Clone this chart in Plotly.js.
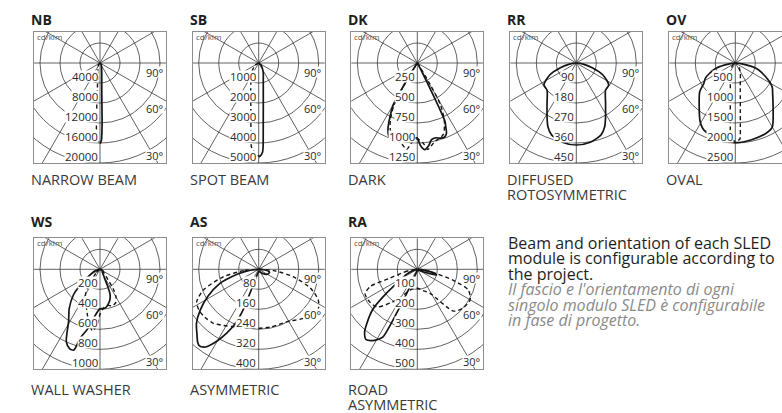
<!DOCTYPE html>
<html><head><meta charset="utf-8">
<script src="https://cdn.plot.ly/plotly-3.0.1.min.js"></script>
<style>html,body{margin:0;padding:0;background:#fff;overflow:hidden;}</style>
</head><body><div id="chart" style="width:782px;height:413px;"></div>
<script>
// ---------- DATA (angle from nadir in degrees: negative = left half, positive = right half; intensity in cd/klm) ----------
const NB_TICKS = [4000, 8000, 12000, 16000, 20000];
const NB_SOLID_ANG = [0, 1, 2, 3, 5, 10, 20, 45, 90];
const NB_SOLID_CD  = [16100, 15500, 12000, 7000, 4000, 2000, 900, 300, 0];
const NB_DASH_ANG  = [-90, -45, -20, -10, -6, -4, -3, -2, 0];
const NB_DASH_CD   = [0, 400, 1200, 2600, 5000, 9500, 13500, 15500, 16000];

const SB_TICKS = [1000, 2000, 3000, 4000, 5000];
const SB_SOLID_ANG = [0, 1.5, 2.5, 3, 3.5, 4.5, 6, 8, 11, 15, 25, 45, 90];
const SB_SOLID_CD  = [4700, 4600, 4450, 4200, 3700, 2900, 2200, 1650, 1200, 880, 540, 200, 0];
const SB_DASH_ANG  = [-90, -60, -35, -22, -16, -12, -9, -7, -6, -5, -3.5, -2, 0];
const SB_DASH_CD   = [0, 200, 650, 1050, 1450, 1900, 2500, 3200, 3700, 4200, 4350, 4550, 4650];

const DK_TICKS = [250, 500, 750, 1000, 1250];
const DK_SOLID_ANG = [-90, -40, -33, -31, -30, -27, -24, -21, -15, -10, -5, 0, 2, 5, 8, 10.5, 14, 17, 20, 22.6, 24, 25.3, 26, 26.5, 27, 28, 30, 40, 90];
const DK_SOLID_CD  = [0, 10, 60, 370, 600, 750, 900, 985, 1000, 975, 950, 938, 1025, 1088, 1038, 975, 963, 983, 988, 950, 875, 812, 625, 375, 188, 88, 38, 12, 0];
const DK_DASH_ANG  = [-90, -35, -31, -29, -25, -20, -12, -7, -4, 0, 4, 7, 12, 20, 25, 29, 31, 35, 90];
const DK_DASH_CD   = [0, 20, 300, 600, 800, 950, 1012, 1088, 1000, 950, 1000, 1088, 1012, 950, 800, 600, 300, 20, 0];

const RR_TICKS = [90, 180, 270, 360, 450];
const RR_SOLID_ANG = [-90, -80, -73, -66, -56, -47, -36, -28, -24, -19, -10, 0, 10, 19, 24, 28, 36, 47, 56, 66, 73, 80, 90];
const RR_SOLID_CD  = [0, 35, 77, 130, 176, 180, 224, 280, 314, 342, 362, 369, 362, 342, 314, 280, 224, 180, 176, 130, 77, 35, 0];

const OV_TICKS = [500, 1000, 1500, 2000, 2500];
const OV_SOLID_ANG = [-90, -82, -75, -68, -63, -57, -51, -40, -31, -25, -12.5, 0, 12, 24, 30, 40, 50, 57, 63, 75, 82, 90];
const OV_SOLID_CD  = [0, 150, 500, 700, 842, 940, 1145, 1405, 1708, 1853, 1928, 1990, 1960, 1915, 1850, 1470, 1220, 1100, 920, 560, 170, 0];
const OV_DASH_ANG  = [-90, -60, -40, -25, -15, -11, -8, -6, -4.5, -3.5, -2, 0, 2, 3.5, 4.5, 6, 8, 11, 15, 25, 40, 60, 90];
const OV_DASH_CD   = [0, 50, 150, 300, 480, 650, 900, 1200, 1600, 1900, 1940, 1950, 1940, 1900, 1600, 1200, 900, 650, 480, 300, 150, 50, 0];

const WS_TICKS = [200, 400, 600, 800, 1000];
const WS_SOLID_ANG = [-90, -70, -60, -50, -46, -38, -31, -25, -21, -18, -16, -12, -7, -3, 0, 4, 8, 13, 18, 22, 24, 27, 35, 60, 90];
const WS_SOLID_CD  = [0, 60, 120, 280, 370, 500, 610, 797, 850, 850, 714, 614, 484, 420, 395, 395, 390, 360, 320, 270, 200, 100, 50, 30, 0];
const WS_DASH_ANG  = [-90, -45, -35, -30, -20, -12, -7, -3, 0, 5, 13, 18, 25, 30, 34, 40, 60, 90];
const WS_DASH_CD   = [0, 60, 200, 290, 400, 540, 620, 560, 450, 390, 370, 385, 370, 320, 240, 100, 30, 0];

const AS_TICKS = [80, 160, 240, 320, 400];
const AS_SOLID_ANG = [-90, -80, -75, -70, -62, -55, -49, -44, -40, -38, -35, -33.9, -30, -26.6, -23, -21, -20, -18, -10, 0, 20, 40, 60, 75, 85, 90];
const AS_SOLID_CD  = [0, 60, 110, 165, 230, 286, 330, 356, 380, 387, 380, 373, 330, 286, 230, 174, 100, 40, 15, 10, 10, 20, 40, 45, 20, 0];
const AS_DASH_ANG  = [-90, -85, -78, -69.5, -62.4, -55, -48, -40, -32, -24, -12, 0, 12, 28, 40, 50, 57, 62.8, 70, 77.9, 85, 90];
const AS_DASH_CD   = [0, 60, 145, 236, 280, 290, 288, 282, 265, 251, 240, 236, 236, 238, 260, 285, 285, 268, 220, 141, 60, 0];

const RA_TICKS = [100, 200, 300, 400, 500];
const RA_SOLID_ANG = [-90, -75, -65, -57, -52, -48, -43, -40, -36, -32, -29, -26.8, -24.8, -22.8, -20, -10, 0, 30, 60, 68, 73, 78, 85, 90];
const RA_SOLID_CD  = [0, 20, 60, 110, 200, 300, 370, 410, 435, 420, 400, 377, 206, 94, 30, 10, 5, 5, 10, 40, 100, 80, 20, 0];
const RA_DASH_ANG  = [-90, -80, -72, -70, -65, -58, -47, -34, -19, 0, 15, 28, 41, 50, 60, 68, 73, 77, 85, 90];
const RA_DASH_CD   = [0, 50, 150, 250, 288, 290, 276, 185, 110, 95, 110, 136, 277, 300, 305, 275, 188, 100, 30, 0];

const ANGLE_LABELS = ['90°', '60°', '30°'];
const UNIT_LABEL = 'cd/klm';

const TEXT_EN = ['Beam and orientation of each SLED', 'module is configurable according to', 'the project.'];
const TEXT_IT = ["Il fascio e l'orientamento di ogni", 'singolo modulo SLED è configurabile', 'in fase di progetto.'];

// ---------- LAYOUT ----------
const W = 782, H = 413;
const FONT = 'Open Sans, Noto Sans, sans-serif';
const PANELS = [
  {code:'NB', caption:['NARROW BEAM'], ticks:NB_TICKS, solid:[NB_SOLID_ANG, NB_SOLID_CD], dash:[NB_DASH_ANG, NB_DASH_CD], cx:100,   cy:63},
  {code:'SB', caption:['SPOT BEAM'],   ticks:SB_TICKS, solid:[SB_SOLID_ANG, SB_SOLID_CD], dash:[SB_DASH_ANG, SB_DASH_CD], cx:258.7, cy:63},
  {code:'DK', caption:['DARK'],        ticks:DK_TICKS, solid:[DK_SOLID_ANG, DK_SOLID_CD], dash:[DK_DASH_ANG, DK_DASH_CD], cx:417.3, cy:63},
  {code:'RR', caption:['DIFFUSED','ROTOSYMMETRIC'], ticks:RR_TICKS, solid:[RR_SOLID_ANG, RR_SOLID_CD], dash:null, cx:576.3, cy:63},
  {code:'OV', caption:['OVAL'],        ticks:OV_TICKS, solid:[OV_SOLID_ANG, OV_SOLID_CD], dash:[OV_DASH_ANG, OV_DASH_CD], cx:735.3, cy:63},
  {code:'WS', caption:['WALL WASHER'], ticks:WS_TICKS, solid:[WS_SOLID_ANG, WS_SOLID_CD], dash:[WS_DASH_ANG, WS_DASH_CD], cx:100,   cy:269.3},
  {code:'AS', caption:['ASYMMETRIC'],  ticks:AS_TICKS, solid:[AS_SOLID_ANG, AS_SOLID_CD], dash:[AS_DASH_ANG, AS_DASH_CD], cx:258.7, cy:269.3},
  {code:'RA', caption:['ROAD','ASYMMETRIC'], ticks:RA_TICKS, solid:[RA_SOLID_ANG, RA_SOLID_CD], dash:[RA_DASH_ANG, RA_DASH_CD], cx:417.3, cy:269.3}
];
const HALF_W = 66, TOP = 31, BOTTOM = 100, RING_PX = 20;
const GRID = '#3a3a3a', BORDER = '#8e8e8e', INK = '#151515';

const traces = [], shapes = [], annotations = [];
const layout = {
  width: W, height: H, margin: {l:0, r:0, t:0, b:0},
  paper_bgcolor: '#fff', plot_bgcolor: '#fff', showlegend: false,
  font: {family: FONT}, shapes, annotations
};

PANELS.forEach((p, i) => {
  const id = i === 0 ? '' : String(i + 1);
  const xr = 'x' + id, yr = 'y' + id;
  const step = p.ticks[0];
  const s = step / RING_PX;          // cd per pixel
  const left = p.cx - HALF_W, right = Math.min(p.cx + HALF_W, W);
  const top = p.cy - TOP, bottom = p.cy + BOTTOM;
  const clippedRight = p.cx + HALF_W > W;
  layout['xaxis' + id] = {
    domain: [left / W, right / W], range: [(left - p.cx) * s, (right - p.cx) * s],
    showgrid:false, zeroline:false, showticklabels:false, ticks:'', fixedrange:true,
    showline:true, mirror:true, linecolor:BORDER, linewidth:1, anchor: yr
  };
  layout['yaxis' + id] = {
    domain: [1 - bottom / H, 1 - top / H], range: [-(bottom - p.cy) * s, (p.cy - top) * s],
    showgrid:false, zeroline:false, showticklabels:false, ticks:'', fixedrange:true,
    showline:true, mirror: clippedRight ? false : true, linecolor:BORDER, linewidth:1, anchor: xr
  };
  // rings
  p.ticks.forEach(R => {
    shapes.push({type:'circle', xref:xr, yref:yr, x0:-R, y0:-R, x1:R, y1:R, line:{color:GRID, width:0.8}, layer:'below'});
  });
  // spokes every 30 degrees
  const L = step * 8;
  for (let a = 0; a < 180; a += 30) {
    const t = a * Math.PI / 180;
    shapes.push({type:'line', xref:xr, yref:yr, x0:-L*Math.sin(t), y0:L*Math.cos(t), x1:L*Math.sin(t), y1:-L*Math.cos(t), line:{color:GRID, width:0.8}, layer:'below'});
  }
  // curves
  const addCurve = (pair, dash) => {
    const [ang, cd] = pair;
    traces.push({
      type:'scatter', mode:'lines', xaxis:xr, yaxis:yr, hoverinfo:'skip',
      x: ang.map((a, k) => cd[k] * Math.sin(a * Math.PI / 180)),
      y: ang.map((a, k) => -cd[k] * Math.cos(a * Math.PI / 180)),
      line: {color: INK, width: dash ? 1.4 : 1.7, dash: dash ? '4px,3px' : 'solid', shape:'spline', smoothing:0.7}
    });
  };
  if (p.dash) addCurve(p.dash, true);
  addCurve(p.solid, false);
  // ring labels
  p.ticks.forEach(R => {
    annotations.push({xref:xr, yref:yr, x:0, y:-R, xanchor:'right', yanchor:'middle', xshift:-1.5, yshift:6.5,
      text:String(R), showarrow:false, bgcolor:'#fff', borderpad:0, height:11,
      font:{size:11.5, color:'#2a2a2a', family:FONT}});
  });
  // angle labels
  [8.5, 45, 92].forEach((dy, k) => {
    annotations.push({xref:xr, yref:yr, x:(HALF_W - 1.5) * s, y:-dy * s, xanchor:'right', yanchor:'middle',
      text:ANGLE_LABELS[k], showarrow:false, bgcolor:'#fff', borderpad:0, height:10,
      font:{size:11, color:'#2a2a2a', family:FONT}});
  });
  // unit label
  annotations.push({xref:'paper', yref:'paper', x:(p.cx - 64) / W, y:1 - (p.cy - 26.5) / H, xanchor:'left', yanchor:'middle',
    text:UNIT_LABEL, showarrow:false, borderpad:0, font:{size:8, color:'#555', family:FONT}});
  // title
  const row1 = p.cy < 150;
  const titleY = row1 ? 20 : 221;
  const capY = row1 ? 179.5 : 389;
  annotations.push({xref:'paper', yref:'paper', x:(p.cx - 70) / W, y:1 - titleY / H, xanchor:'left', yanchor:'middle',
    text:'<b>' + p.code + '</b>', showarrow:false, borderpad:0, font:{size:14, color:'#1e1e1e', family:FONT}});
  p.caption.forEach((c, k) => {
    annotations.push({xref:'paper', yref:'paper', x:(p.cx - 70) / W, y:1 - (capY + k * 15) / H, xanchor:'left', yanchor:'middle',
      text:c, showarrow:false, borderpad:0, font:{size:14.5, color:'#3a3a3a', family:FONT}});
  });
});

// paragraph: one text block, tight leading (line spacing follows the small base size)
const enLines = TEXT_EN.map(t => '<span style="font-size:16px;fill:#1e1e1e">' + t + '</span>');
const itLines = TEXT_IT.map(t => '<span style="font-size:16px;fill:#8a8a8a"><i>' + t + '</i></span>');
annotations.push({xref:'paper', yref:'paper', x:507 / W, y:1 - 281 / H, xanchor:'left', yanchor:'middle', align:'left',
  text: enLines.concat(itLines).join('<br>'), showarrow:false, borderpad:0,
  font:{size:11.9, color:'#1e1e1e', family:FONT}});

Plotly.newPlot('chart', traces, layout, {staticPlot:true, displayModeBar:false});
</script>
</body></html>
